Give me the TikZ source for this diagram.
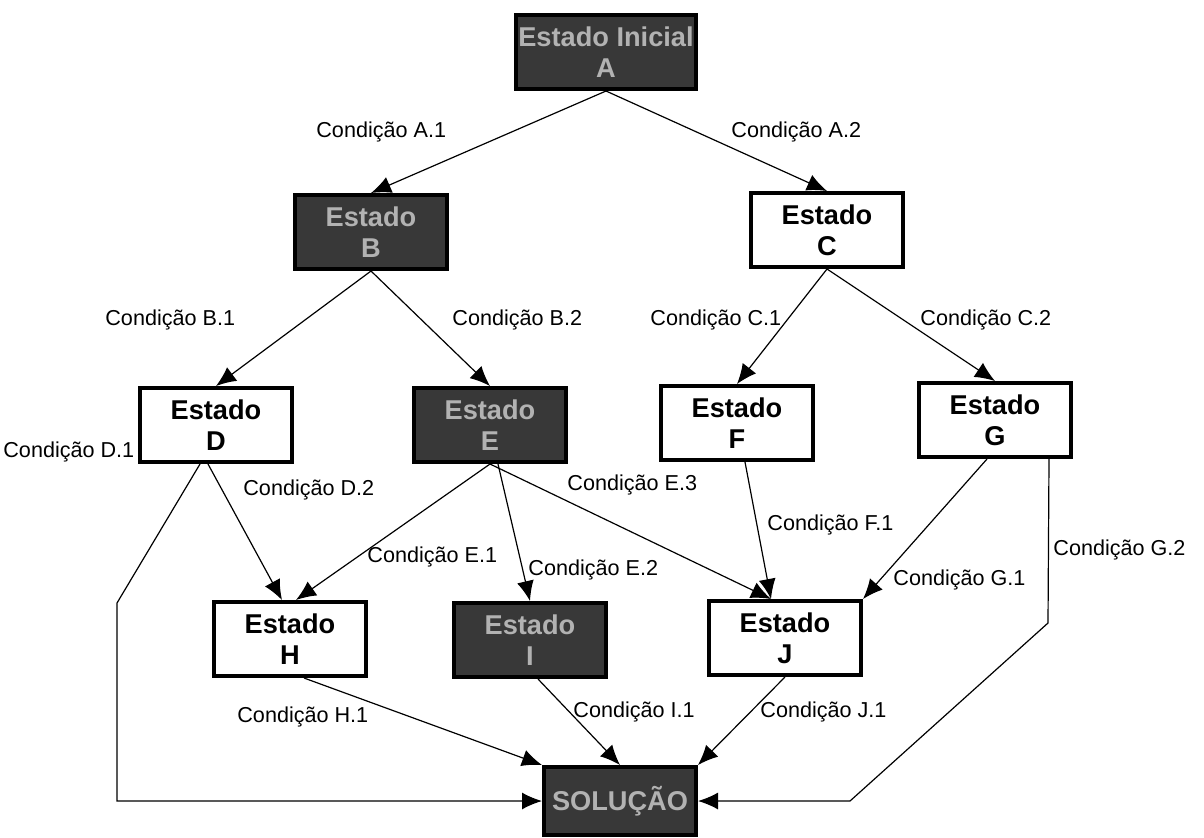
\documentclass[tikz,border=0pt]{standalone}
\usepackage{fontspec}
\setmainfont{Liberation Sans}
\usetikzlibrary{arrows.meta}

\begin{document}
\begin{tikzpicture}[x=0.5pt, y=-0.5pt,
	estado/.style={draw, line width=2pt, align=center, inner sep=0pt, minimum width=76pt, minimum height=37pt, font=\fontsize{13.6}{15.5}\selectfont\bfseries},
	marcado/.style={estado, fill=black!78, text=black!30},
	cond/.style={anchor=west, inner sep=0pt, font=\fontsize{10.8}{13}\selectfont},
	seta/.style={line width=0.6pt, -{Latex[length=10pt,width=8.5pt]}}]
	\useasboundingbox (0,0) rectangle (1204,837);

	% estados
	\node [marcado, minimum width=90pt] (A) at (606,52) {Estado Inicial\\A};
	\node [marcado] (B) at (371,232) {Estado\\B};
	\node [estado] (C) at (827,230) {Estado\\C};
	\node [estado] (D) at (216,425) {Estado\\D};
	\node [marcado] (E) at (490,425) {Estado\\E};
	\node [estado] (F) at (737,423) {Estado\\F};
	\node [estado] (G) at (995,420) {Estado\\G};
	\node [estado] (H) at (290,639) {Estado\\H};
	\node [marcado] (I) at (530,640) {Estado\\I};
	\node [estado] (J) at (785,638) {Estado\\J};
	\node [marcado, minimum height=34pt] (S) at (620,801) {SOLUÇÃO};

	% condicoes
	\node [cond] (cA1) at (316,132) {Condição A.1};
	\node [cond] (cA2) at (731,132) {Condição A.2};
	\node [cond] (cB1) at (105,320) {Condição B.1};
	\node [cond] (cB2) at (452,320) {Condição B.2};
	\node [cond] (cC1) at (650,320) {Condição C.1};
	\node [cond] (cC2) at (920,320) {Condição C.2};
	\node [cond] (cD1) at (3,452) {Condição D.1};
	\node [cond] (cD2) at (243,490) {Condição D.2};
	\node [cond] (cE1) at (367,557) {Condição E.1};
	\node [cond] (cE2) at (528,570) {Condição E.2};
	\node [cond] (cE3) at (567,485) {Condição E.3};
	\node [cond] (cF1) at (767,525) {Condição F.1};
	\node [cond] (cG1) at (893,580) {Condição G.1};
	\node [cond] (cG2) at (1053,550) {Condição G.2};
	\node [cond] (cH1) at (237,717) {Condição H.1};
	\node [cond] (cI1) at (573,712) {Condição I.1};
	\node [cond] (cJ1) at (760,712) {Condição J.1};

	% transicoes
	\draw [seta] (A.south) -- (B.north);
	\draw [seta] (A.south) -- (C.north);
	\draw [seta] (B.south) -- (D.north);
	\draw [seta] (B.south) -- (E.north);
	\draw [seta] (C.south) -- (F.north);
	\draw [seta] (C.south) -- (G.north);
	\draw [seta] ([xshift=-4pt]D.south) -- ([xshift=-4pt]H.north);
	\draw [seta] (E.south) -- ([xshift=3pt]H.north);
	\draw [seta] ([xshift=4pt]E.south) -- (I.north);
	\draw [seta] (E.south) -- ([xshift=-7pt]J.north);
	\draw [seta] ([xshift=4pt]F.south) -- ([xshift=-7pt]J.north);
	\draw [seta] ([xshift=-4pt]G.south) -- (J.north east);
	\draw [seta] ([xshift=-8pt]D.south) -- (117,603) |- (S.west);
	\draw [seta] ([xshift=-12pt]G.south east) -- (1048,623) -- (850,801) -- (S.east);
	\draw [seta] ([xshift=7pt]H.south) -- (S.north west);
	\draw [seta] ([xshift=4pt]I.south) -- (S.north);
	\draw [seta] (J.south) -- (S.north east);
\end{tikzpicture}
\end{document}
